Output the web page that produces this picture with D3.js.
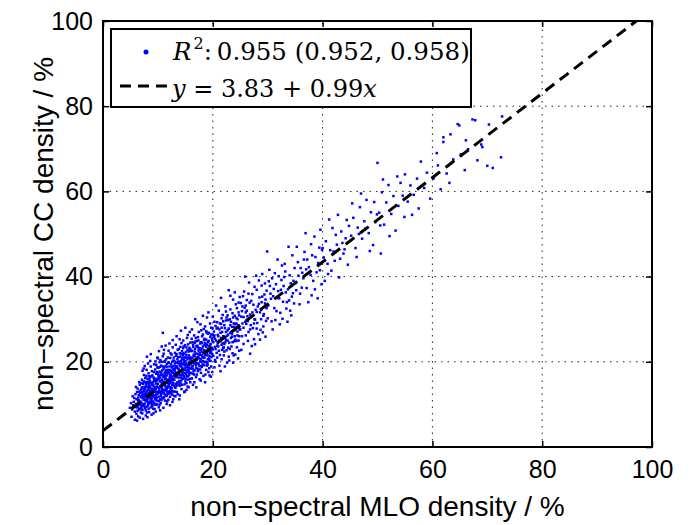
<!DOCTYPE html>
<html>
<head>
<meta charset="utf-8">
<script src="https://cdn.jsdelivr.net/npm/d3@7"></script>
<style>
  body { margin: 0; background: #fff; }
  svg { display: block; }
</style>
</head>
<body>
<svg id="chart"></svg>
<script>
// axis ticks
const xTicks = [0, 20, 40, 60, 80, 100];
const yTicks = [0, 20, 40, 60, 80, 100];

// linear fit shown in legend
const fitIntercept = 3.83;
const fitSlope = 0.99;
const r2Value = '0.955';
const r2Interval = '(0.952, 0.958)';

// [MLO density, CC density]
const scatterPoints = [
  [5.2,7.1],[5.5,9.8],[5.8,6.4],[6.1,11.2],[6.3,8.5],[6.6,13.0],[6.8,9.9],[5.9,12.4],[6.4,7.2],[6.9,11.8],[5.6,10.6],[6.2,9.3],[6.7,14.6],[5.3,8.8],[6.0,10.1],[6.5,12.2],[6.9,8.1],[5.7,11.5],[6.3,13.7],[6.8,10.7],[4.9,9.2],[6.1,7.8],[6.6,9.0],[5.4,11.9],[6.2,12.9],[6.7,6.9],[6.9,13.4],[5.8,8.3],[6.4,10.9],[6.0,14.1],[6.5,11.0],[6.8,12.7],[5.1,10.3],[6.3,9.6],[6.6,15.2],[5.9,9.4],[6.2,6.2],[6.9,9.2],[6.4,11.6],[6.7,8.8],
  [7.0,10.4],[7.1,12.9],[7.2,8.7],[7.3,14.8],[7.4,11.1],[7.5,9.6],[7.6,13.5],[7.7,16.2],[7.8,10.9],[7.9,12.3],[8.0,8.1],[8.1,14.1],[8.2,11.7],[8.3,17.3],[8.4,10.2],[8.5,12.8],[8.6,15.4],[8.7,9.3],[8.8,13.2],[8.9,11.4],
  [9.0,16.8],[9.1,10.7],[9.2,14.4],[9.3,12.1],[9.4,8.9],[9.5,18.2],[9.6,13.6],[9.7,11.0],[9.8,15.7],[9.9,12.6],[7.05,13.9],[7.25,11.6],[7.45,16.9],[7.65,9.1],[7.85,14.3],[8.05,12.0],[8.25,10.1],[8.45,15.9],[8.65,13.0],[8.85,7.6],
  [9.05,12.9],[9.25,17.6],[9.45,11.5],[9.65,14.9],[9.85,10.0],[7.15,7.9],[7.35,12.5],[7.55,15.3],[7.75,11.9],[7.95,18.1],[8.15,9.7],[8.35,13.8],[8.55,16.4],[8.75,11.2],[8.95,14.7],[9.15,9.0],[9.35,13.3],[9.55,20.1],[9.75,12.4],[9.95,16.1],
  [7.1,15.8],[7.3,10.0],[7.5,13.1],[7.7,12.0],[7.9,9.4],[8.1,16.0],[8.3,12.6],[8.5,10.6],[8.7,18.9],[8.9,13.5],[9.1,15.2],[9.3,10.4],[9.5,13.9],[9.7,17.2],[9.9,14.0],[7.2,17.9],[7.4,13.6],[7.6,11.3],[7.8,15.0],[8.0,13.1],
  [8.2,19.6],[8.4,14.6],[8.6,11.8],[8.8,16.6],[9.0,13.7],[9.2,11.9],[9.4,15.5],[9.6,9.9],[9.8,13.0],[8.0,21.2],[7.3,6.6],[7.8,7.4],[8.4,8.2],[9.0,9.6],[9.6,8.3],[7.6,19.0],[8.7,21.8],[9.3,19.4],[9.9,21.0],[7.0,15.0],
  [7.2,12.2],[7.4,9.8],[7.6,14.1],[7.8,12.7],[8.0,11.0],[8.2,15.3],[8.4,12.3],[8.6,14.0],[8.8,10.3],[9.0,12.4],[9.2,16.3],[9.4,14.0],[9.6,12.2],[9.8,11.6],[7.1,11.5],[7.9,16.7],[8.3,11.4],[8.9,17.8],[9.5,11.2],[9.9,18.7],
  [7.4,18.4],[8.1,7.0],[8.6,20.2],[9.2,7.9],[9.7,19.3],
  [10.0,12.6],[10.1,15.9],[10.2,10.8],[10.3,17.7],[10.4,14.2],[10.5,12.0],[10.6,19.1],[10.7,15.0],[10.8,11.6],[10.9,16.8],[11.0,13.4],[11.1,18.5],[11.2,14.8],[11.3,10.9],[11.4,16.2],[11.5,20.6],[11.6,13.7],[11.7,17.4],[11.8,12.5],[11.9,15.6],
  [12.0,19.8],[12.1,14.1],[12.2,11.8],[12.3,17.0],[12.4,15.3],[12.5,21.7],[12.6,13.2],[12.7,18.3],[12.8,16.0],[12.9,14.4],[10.05,17.2],[10.25,13.5],[10.45,20.4],[10.65,11.0],[10.85,14.6],[11.05,21.9],[11.25,16.6],[11.45,12.2],[11.65,19.5],[11.85,15.0],
  [12.05,13.0],[12.25,20.9],[12.45,16.7],[12.65,10.6],[12.85,19.0],[10.15,9.3],[10.35,15.4],[10.55,16.9],[10.75,13.1],[10.95,18.9],[11.15,11.7],[11.35,15.9],[11.55,17.8],[11.75,14.2],[11.95,22.6],[12.15,16.3],[12.35,13.7],[12.55,18.8],[12.75,15.1],[12.95,12.0],
  [10.1,14.0],[10.3,19.9],[10.5,15.6],[10.7,12.7],[10.9,21.3],[11.1,15.3],[11.3,13.3],[11.5,18.0],[11.7,10.7],[11.9,17.3],[12.1,15.8],[12.3,14.0],[12.5,17.5],[12.7,23.4],[12.9,16.6],[10.2,22.5],[10.4,11.3],[10.6,14.4],[10.8,18.0],[11.0,16.4],
  [11.2,12.4],[11.4,19.0],[11.6,15.2],[11.8,21.0],[12.0,14.7],[12.2,18.1],[12.4,12.6],[12.6,16.1],[12.8,20.3],[10.9,26.8],[10.3,9.9],[11.0,9.2],[11.6,10.1],[12.2,9.8],[12.8,11.2],[10.7,23.6],[11.4,23.8],[12.1,24.3],[12.7,25.1],[10.0,20.8],
  [10.4,16.3],[10.8,15.8],[11.2,17.3],[11.6,16.8],[12.0,17.6],[12.4,19.4],[12.8,14.9],[10.2,13.0],[10.6,17.5],[11.0,14.5],[11.4,14.0],[11.8,18.1],[12.2,15.0],[12.6,14.6],[10.1,18.6],[10.5,10.3],[11.3,20.2],[11.7,13.0],[12.3,22.0],[12.9,18.0],
  [10.4,8.6],[11.9,11.1],[12.6,12.3],[11.1,22.8],[10.8,20.0],
  [13.0,15.8],[13.1,19.6],[13.2,13.9],[13.3,21.4],[13.4,17.2],[13.5,15.0],[13.6,22.8],[13.7,18.4],[13.8,14.6],[13.9,20.0],[14.0,16.9],[14.1,23.5],[14.2,18.9],[14.3,13.6],[14.4,20.7],[14.5,17.5],[14.6,25.0],[14.7,16.1],[14.8,21.9],[14.9,19.2],
  [15.0,15.4],[15.1,22.3],[15.2,18.0],[15.3,20.9],[15.4,14.2],[15.5,24.1],[15.6,19.7],[15.7,17.0],[15.8,22.6],[15.9,18.5],[13.05,18.0],[13.25,24.0],[13.45,12.9],[13.65,19.9],[13.85,17.1],[14.05,21.2],[14.25,15.6],[14.45,18.6],[14.65,22.0],[14.85,14.7],
  [15.05,20.1],[15.25,16.6],[15.45,26.3],[15.65,21.5],[15.85,16.0],[13.15,16.7],[13.35,18.6],[13.55,20.6],[13.75,16.3],[13.95,25.3],[14.15,19.4],[14.35,17.0],[14.55,21.6],[14.75,19.8],[14.95,23.9],[15.15,17.2],[15.35,19.0],[15.55,15.8],[15.75,23.3],[15.95,20.4],
  [13.1,22.1],[13.3,14.8],[13.5,18.9],[13.7,21.1],[13.9,15.5],[14.1,17.8],[14.3,24.4],[14.5,16.0],[14.7,20.4],[14.9,17.4],[15.1,19.5],[15.3,25.6],[15.5,18.2],[15.7,21.0],[15.9,15.2],[13.2,11.9],[13.6,12.4],[14.0,12.1],[14.4,14.6],[14.8,12.9],
  [15.2,13.4],[15.6,14.0],[13.4,26.0],[14.2,27.3],[15.0,28.0],[15.8,27.0],[13.8,23.0],[14.6,23.2],[15.4,22.8],[13.0,20.2],[13.4,19.8],[13.8,18.2],[14.2,16.3],[14.6,18.3],[15.0,21.1],[15.4,17.6],[15.8,19.8],[13.2,17.5],[14.0,19.1],[14.8,18.1],
  [15.6,17.9],[13.6,17.4],[14.4,22.5],[15.2,23.4],[15.9,24.5],[13.9,11.2],[14.9,13.0],[14.3,19.6],[13.1,14.1],[15.7,19.2],
  [16.0,18.4],[16.1,22.5],[16.2,16.1],[16.3,24.6],[16.4,20.0],[16.5,17.8],[16.6,26.2],[16.7,21.3],[16.8,30.0],[16.9,19.2],[17.0,23.6],[17.1,17.0],[17.2,21.9],[17.3,25.8],[17.4,19.5],[17.5,22.9],[17.6,15.9],[17.7,24.3],[17.8,20.6],[17.9,27.4],
  [18.0,18.8],[18.1,23.1],[18.2,21.0],[18.3,16.7],[18.4,25.1],[18.5,19.9],[18.6,28.3],[18.7,22.2],[18.8,18.1],[18.9,24.0],[19.0,21.5],[19.1,26.6],[19.2,17.6],[19.3,23.7],[19.4,20.3],[19.5,29.0],[19.6,22.6],[19.7,18.9],[19.8,25.5],[19.9,21.8],
  [16.05,21.0],[16.25,19.0],[16.45,23.5],[16.65,15.2],[16.85,24.8],[17.05,20.5],[17.25,18.3],[17.45,27.0],[17.65,22.0],[17.85,17.4],[18.05,26.0],[18.25,20.2],[18.45,22.7],[18.65,17.0],[18.85,26.9],[19.05,19.3],[19.25,24.9],[19.45,22.1],[19.65,16.5],[19.85,23.3],
  [16.15,25.4],[16.35,17.2],[16.55,21.7],[16.75,23.0],[16.95,16.4],[17.15,24.9],[17.35,21.2],[17.55,19.0],[17.75,28.8],[17.95,22.4],[18.15,19.4],[18.35,27.7],[18.55,24.4],[18.75,20.0],[18.95,30.4],[19.15,23.0],[19.35,18.5],[19.55,25.9],[19.75,21.1],[19.95,27.9],
  [16.4,14.6],[17.0,14.0],[17.8,15.6],[18.6,15.2],[19.4,16.8],[16.2,27.6],[17.2,29.3],[18.2,30.8],[19.2,31.6],[19.9,17.6],[16.6,19.6],[17.4,22.6],[18.0,21.6],[18.8,23.5],[19.6,24.2],[16.9,21.9],[17.7,20.1],[18.5,23.9],[19.3,20.8],[16.3,20.8],
  [17.9,24.6],[18.9,19.1],[19.7,26.4],[17.3,23.4],[16.7,18.0],
  [20.0,22.9],[20.2,27.1],[20.4,20.4],[20.6,25.0],[20.8,29.3],[21.0,23.6],[21.2,19.1],[21.4,26.8],[21.6,24.0],[21.8,31.0],[22.0,21.5],[22.2,27.9],[22.4,25.2],[22.6,19.8],[22.8,29.8],[23.0,24.5],[23.2,32.3],[23.4,27.0],[23.6,22.0],[23.8,29.0],
  [24.0,26.0],[24.2,33.5],[24.4,23.4],[24.6,28.6],[24.8,30.9],[20.1,24.6],[20.3,18.7],[20.5,28.4],[20.7,22.1],[20.9,26.3],[21.1,32.0],[21.3,21.6],[21.5,28.9],[21.7,22.8],[21.9,26.0],[22.1,24.2],[22.3,33.0],[22.5,22.7],[22.7,27.4],[22.9,21.2],
  [23.1,30.0],[23.3,25.6],[23.5,28.2],[23.7,34.6],[23.9,24.8],[24.1,21.7],[24.3,30.3],[24.5,27.1],[24.7,25.0],[24.9,35.2],[20.0,30.6],[20.4,23.5],[20.8,21.0],[21.2,27.6],[21.6,30.2],[22.0,25.6],[22.4,29.7],[22.8,23.3],[23.2,26.8],[23.6,31.4],
  [24.0,28.9],[24.4,32.6],[24.8,22.6],[20.6,33.2],[21.4,17.8],[22.2,18.9],[23.0,20.3],[23.8,21.5],[24.6,20.8],[21.0,26.0],[21.8,24.4],[22.6,26.1],[23.4,23.6],[24.2,27.7],[20.2,25.8],[21.6,20.6],[22.4,31.8],[23.2,35.5],[24.0,36.3],[24.8,28.0],
  [20.9,28.0],[21.3,24.9],[21.9,29.5],[22.7,30.9],[23.5,25.9],[24.3,24.9],[24.7,33.9],[20.5,20.0],[22.1,22.4],[23.9,27.4],[21.5,35.0],[22.9,36.8],[20.3,29.4],[23.7,19.8],[24.5,30.0],
  [25.0,27.6],[25.3,31.9],[25.6,24.2],[25.9,29.4],[26.2,34.5],[26.5,27.0],[26.8,31.1],[27.1,23.7],[27.4,33.4],[27.7,29.9],[28.0,36.9],[28.3,26.5],[28.6,31.6],[28.9,34.0],[29.2,28.3],[29.5,38.4],[29.8,32.6],[25.1,33.8],[25.4,29.0],[25.7,36.5],
  [26.0,26.2],[26.3,30.7],[26.6,38.6],[26.9,28.6],[27.2,35.9],[27.5,25.3],[27.8,32.2],[28.1,29.1],[28.4,39.1],[28.7,27.5],[29.0,35.3],[29.3,31.2],[29.6,25.9],[29.9,45.9],[25.2,22.8],[25.8,32.7],[26.4,24.9],[27.0,30.5],[27.6,37.6],[28.2,33.0],
  [28.8,30.0],[29.4,35.8],[29.7,29.6],[25.5,35.4],[26.1,28.9],[26.7,33.9],[27.3,27.9],[27.9,40.2],[28.5,35.1],[29.1,26.9],[25.9,40.0],[26.8,21.9],[27.7,24.1],[28.6,25.2],[29.5,33.7],[25.3,26.0],[26.0,31.6],[27.0,34.3],[28.0,31.7],[29.0,40.6],
  [29.8,36.7],[27.5,29.0],[26.5,36.0],[28.9,37.9],[25.6,30.5],
  [30.1,33.2],[30.4,37.8],[30.7,29.5],[31.0,35.4],[31.3,40.8],[31.6,31.9],[31.9,36.6],[32.2,28.8],[32.5,39.2],[32.8,34.1],[33.1,43.0],[33.4,32.5],[33.7,37.0],[34.0,40.3],[34.3,30.9],[34.6,36.1],[34.9,42.0],[30.3,41.6],[30.9,27.6],[31.5,38.2],
  [32.1,34.9],[32.7,30.1],[33.3,36.3],[33.9,34.4],[34.5,45.0],[30.6,34.8],[31.2,32.6],[31.8,44.0],[32.4,36.9],[33.0,39.9],[33.6,29.4],[34.2,38.4],[34.8,33.7],[30.0,30.2],[30.8,39.6],[31.7,35.0],[32.6,42.6],[33.5,34.0],[34.4,35.3],[31.1,37.1],
  [32.3,31.5],[33.8,47.0],[34.7,39.0],[30.5,36.0],[32.9,37.8],[31.4,29.8],[34.1,32.0],[33.2,41.2],[30.2,38.9],[32.0,40.1],
  [35.1,38.5],[35.5,43.4],[35.9,36.0],[36.3,40.9],[36.7,45.8],[37.1,37.3],[37.5,42.2],[37.9,47.6],[38.3,39.0],[38.7,44.6],[39.1,34.9],[39.5,41.5],[39.9,46.3],[35.3,47.0],[35.8,33.5],[36.5,39.6],[37.2,44.0],[37.8,40.4],[38.5,49.4],[39.2,43.2],
  [39.8,38.2],[36.0,42.0],[36.9,50.2],[38.0,35.6],[38.9,41.0],[39.6,51.0],[35.6,40.2],[37.4,34.0],[36.2,37.4],[38.1,45.0],[39.4,46.8],[37.0,41.7],[35.2,36.8],[38.6,37.0],[36.6,44.0],
  [40.2,44.5],[40.6,48.3],[41.0,40.6],[41.4,46.2],[41.8,51.4],[42.2,43.7],[42.6,47.5],[43.0,39.8],[43.4,50.6],[43.8,45.4],[44.2,49.0],[44.6,42.8],[40.4,39.0],[41.2,53.4],[42.0,45.9],[42.8,54.5],[43.6,47.9],[44.4,53.3],[40.9,43.0],[41.6,41.4],
  [42.4,49.8],[43.2,44.2],[44.0,46.4],[44.8,51.9],[40.0,46.7],
  [45.2,49.6],[45.6,53.8],[46.0,46.7],[46.4,51.5],[46.8,56.3],[47.2,48.9],[47.6,53.0],[48.0,58.0],[48.4,50.2],[48.8,55.1],[49.2,47.4],[49.6,52.8],[45.4,57.2],[46.2,44.6],[47.0,59.5],[47.8,51.3],[48.6,46.0],[49.4,57.5],[49.9,54.6],[50.0,66.7],
  [50.6,45.4],[46.6,50.0],
  [50.3,55.0],[50.8,59.8],[51.2,52.2],[51.6,57.4],[52.0,61.5],[52.5,54.7],[52.9,58.9],[53.3,50.8],[53.8,56.6],[54.2,62.0],[54.6,59.0],[51.0,62.8],[52.2,49.5],[53.6,63.5],[54.9,54.0],[50.5,52.0],
  [55.0,64.0],[55.5,57.6],[56.0,61.4],[56.6,59.2],[57.2,63.0],[57.9,67.0],[58.5,60.8],[59.0,64.4],[59.6,58.3],[56.3,54.5],[57.5,56.0],
  [60.2,63.0],[61.0,66.1],[61.5,60.5],[62.0,72.7],[62.0,71.6],[62.6,64.2],[63.3,73.4],[63.8,67.5],[64.6,75.8],[64.9,75.5],[65.2,68.7],[65.9,65.0],[66.5,69.9],[67.3,76.9],[67.8,76.7],[68.2,67.3],[68.9,71.0],[69.1,70.4],[70.0,66.0],[70.3,75.7],
  [71.0,65.5],[72.5,68.0],[72.7,77.6],[60.8,69.0],[63.1,62.0],[66.1,72.0],
  // extra points filling the dense core
  [6.5,10.0],[6.9,12.0],[7.0,9.0],[7.2,14.0],[7.3,11.8],[7.5,12.4],[7.6,10.2],[7.7,13.8],[7.8,8.6],[7.9,14.8],[8.0,15.2],[8.1,10.6],[8.2,13.4],[8.3,9.0],[8.4,16.6],[8.5,14.2],[8.6,12.4],[8.7,10.8],[8.8,15.0],[8.9,9.8],
  [9.0,14.6],[9.1,12.2],[9.2,10.2],[9.3,15.8],[9.4,13.0],[9.5,16.0],[9.6,11.6],[9.7,15.4],[9.8,17.6],[9.9,10.8],[10.0,14.8],[10.1,11.8],[10.2,16.6],[10.3,12.8],[10.4,18.8],[10.5,14.0],[10.6,12.4],[10.7,17.0],[10.8,13.6],[10.9,15.2],
  [11.0,18.2],[11.1,12.8],[11.2,20.0],[11.3,14.6],[11.4,17.6],[11.5,13.4],[11.6,18.8],[11.7,15.8],[11.8,14.0],[11.9,19.8],[12.0,12.6],[12.1,18.9],[12.2,16.8],[12.3,15.6],[12.4,17.8],[12.5,13.8],[12.6,20.0],[12.7,15.8],[12.8,17.4],[12.9,21.0],
  [13.0,17.0],[13.1,13.0],[13.2,19.0],[13.3,16.4],[13.4,21.8],[13.5,16.8],[13.6,15.2],[13.7,20.0],[13.8,19.6],[13.9,17.8],[14.0,22.0],[14.1,15.0],[14.2,20.2],[14.3,18.0],[14.4,16.8],[14.5,21.0],[14.6,19.4],[14.7,23.6],[14.8,16.6],[14.9,21.0],
  [15.0,18.6],[15.1,16.0],[15.2,21.6],[15.3,18.8],[15.4,20.6],[15.5,16.6],[15.6,22.4],[15.7,18.6],[15.8,20.8],[15.9,23.0],[16.0,20.2],[16.1,17.4],[16.2,22.6],[16.3,19.0],[16.4,24.0],[16.5,21.4],[16.6,17.0],[16.7,22.4],[16.8,20.4],[16.9,25.6],
  [17.0,18.6],[17.1,21.0],[17.2,23.8],[17.3,19.6],[17.4,25.0],[17.5,20.8],[17.6,23.2],[17.7,18.2],[17.8,22.8],[17.9,20.0],[18.0,24.4],[18.1,21.2],[18.2,26.4],[18.3,22.2],[18.4,19.2],[18.5,25.4],[18.6,21.6],[18.7,24.2],[18.8,27.2],[18.9,22.0],
  [19.0,19.8],[19.1,24.6],[19.2,22.6],[19.3,26.8],[19.4,21.4],[19.5,24.0],[19.6,20.2],[19.7,28.0],[19.8,23.0],[19.9,25.0],[20.1,21.4],[20.3,26.2],[20.5,23.0],[20.7,27.8],[20.9,24.4],[21.1,22.6],[21.3,29.0],[21.5,25.6],[21.7,27.0],[21.9,23.2],
  [22.1,28.6],[22.3,24.6],[22.5,30.4],[22.7,25.0],[22.9,27.8],[23.1,23.0],[23.3,29.4],[23.5,26.6],[23.7,30.4],[23.9,28.2],[24.1,25.2],[24.3,29.0],[24.5,26.2],[24.7,31.6],[24.9,27.6],
  [7.1,9.6],[7.4,15.4],[7.7,11.0],[8.0,12.2],[8.3,15.0],[8.6,13.2],[8.9,12.0],[9.2,13.4],[9.5,10.0],[9.8,14.2],[10.1,16.8],[10.4,13.0],[10.7,14.2],[11.0,11.4],[11.3,16.8],[11.6,12.0],[11.9,14.2],[12.2,13.2],[12.5,16.2],[12.8,13.0],
  [13.1,18.4],[13.4,14.4],[13.7,17.4],[14.0,14.4],[14.3,21.8],[14.6,17.0],[14.9,20.2],[15.2,15.0],[15.5,19.2],[15.8,17.4],[16.1,20.0],[16.4,18.4],[16.7,24.4],[17.0,19.8],[17.3,17.8],[17.6,21.6],[17.9,19.0],[18.2,23.6],[18.5,21.0],[18.8,25.2],
  [19.1,20.6],[19.4,23.0],[19.7,22.2],[20.0,26.4],[20.4,25.4],[20.8,23.8],[21.2,25.0],[21.6,28.0],[22.0,23.4],[22.4,27.0],[22.8,26.4],[23.2,28.6],[23.6,24.6],[24.0,30.8],[24.4,28.2],[24.8,26.0],[25.2,30.6],[25.6,28.0],[26.0,33.2],[26.4,29.6],
  [26.8,27.6],[27.2,31.6],[27.6,30.0],[28.0,27.8],[28.4,33.6],[28.8,32.2],[29.2,30.8],[29.6,34.6],[25.4,33.0],[26.2,32.0]
];

const width = 692;
const height = 525;
const margin = { top: 21, right: 40, bottom: 78, left: 103 };

const svg = d3.select('#chart')
  .attr('width', width)
  .attr('height', height)
  .attr('viewBox', [0, 0, width, height]);

const x = d3.scaleLinear()
  .domain([0, 100])
  .range([margin.left, width - margin.right]);

const y = d3.scaleLinear()
  .domain([0, 100])
  .range([height - margin.bottom, margin.top]);

const tickFont = "'Liberation Sans', Arial, sans-serif";

// dotted grid
const grid = svg.append('g')
  .attr('stroke', '#222')
  .attr('stroke-width', 1)
  .attr('stroke-dasharray', '1.5,5');

grid.selectAll('.gx')
  .data(xTicks.slice(1, -1))
  .join('line')
    .attr('x1', d => x(d)).attr('x2', d => x(d))
    .attr('y1', y(0)).attr('y2', y(100));

grid.selectAll('.gy')
  .data(yTicks.slice(1, -1))
  .join('line')
    .attr('x1', x(0)).attr('x2', x(100))
    .attr('y1', d => y(d)).attr('y2', d => y(d));

// scatter
const dot = 2.5;
svg.append('g')
  .attr('fill', '#0000ff')
  .selectAll('rect')
  .data(scatterPoints)
  .join('rect')
    .attr('x', d => x(d[0]) - dot / 2)
    .attr('y', d => y(d[1]) - dot / 2)
    .attr('width', dot)
    .attr('height', dot);

// fit line, clipped at the top of the box
const xEnd = (100 - fitIntercept) / fitSlope;
svg.append('line')
  .attr('x1', x(0)).attr('y1', y(fitIntercept))
  .attr('x2', x(xEnd)).attr('y2', y(fitIntercept + fitSlope * xEnd))
  .attr('stroke', '#000')
  .attr('stroke-width', 3)
  .attr('stroke-dasharray', '11,7');

// axes: inward ticks on all four sides
const tickLen = -6;
const xAxis = g => g
  .attr('transform', `translate(0,${y(0)})`)
  .call(d3.axisBottom(x).tickValues(xTicks).tickSizeInner(tickLen).tickSizeOuter(0).tickPadding(13))
  .call(g => g.select('.domain').remove());

const yAxis = g => g
  .attr('transform', `translate(${x(0)},0)`)
  .call(d3.axisLeft(y).tickValues(yTicks).tickSizeInner(tickLen).tickSizeOuter(0).tickPadding(10))
  .call(g => g.select('.domain').remove());

const topAxis = g => g
  .attr('transform', `translate(0,${y(100)})`)
  .call(d3.axisTop(x).tickValues(xTicks).tickSizeInner(tickLen).tickSizeOuter(0).tickFormat(''))
  .call(g => g.select('.domain').remove());

const rightAxis = g => g
  .attr('transform', `translate(${x(100)},0)`)
  .call(d3.axisRight(y).tickValues(yTicks).tickSizeInner(tickLen).tickSizeOuter(0).tickFormat(''))
  .call(g => g.select('.domain').remove());

[xAxis, yAxis, topAxis, rightAxis].forEach(a => {
  svg.append('g').call(a)
    .call(g => g.selectAll('line').attr('stroke', '#000').attr('stroke-width', 1.5))
    .call(g => g.selectAll('text')
      .attr('font-family', tickFont)
      .attr('font-size', 25)
      .attr('fill', '#000'));
});

// box
svg.append('rect')
  .attr('x', x(0)).attr('y', y(100))
  .attr('width', x(100) - x(0))
  .attr('height', y(0) - y(100))
  .attr('fill', 'none')
  .attr('stroke', '#000')
  .attr('stroke-width', 2);

// axis titles
svg.append('text')
  .attr('x', (x(0) + x(100)) / 2)
  .attr('y', 516)
  .attr('text-anchor', 'middle')
  .attr('font-family', tickFont)
  .attr('font-size', 28)
  .text('non\u2212spectral MLO density / %');

svg.append('text')
  .attr('transform', `translate(53,${(y(0) + y(100)) / 2}) rotate(-90)`)
  .attr('text-anchor', 'middle')
  .attr('font-family', tickFont)
  .attr('font-size', 28)
  .text('non\u2212spectral CC density / %');

// legend
const legend = svg.append('g');
legend.append('rect')
  .attr('x', 111).attr('y', 29)
  .attr('width', 360).attr('height', 78)
  .attr('fill', '#fff')
  .attr('stroke', '#000')
  .attr('stroke-width', 2);

legend.append('circle')
  .attr('cx', 146).attr('cy', 52).attr('r', 2.5)
  .attr('fill', '#0000ff');

legend.append('line')
  .attr('x1', 120).attr('x2', 170)
  .attr('y1', 86).attr('y2', 86)
  .attr('stroke', '#000')
  .attr('stroke-width', 3)
  .attr('stroke-dasharray', '11,7');

const serif = "'DejaVu Serif', serif";
const line1 = legend.append('text')
  .attr('font-family', serif)
  .attr('font-size', 24.5)
  .attr('x', 173)
  .attr('y', 60);
line1.append('tspan').attr('font-style', 'italic').text('R');
line1.append('tspan').attr('dx', 2).attr('dy', -11).attr('font-size', 16).text('2');
line1.append('tspan').attr('dy', 11).text(`:\u2009${r2Value} ${r2Interval}`);

const line2 = legend.append('text')
  .attr('font-family', serif)
  .attr('font-size', 24)
  .attr('x', 172)
  .attr('y', 97);
line2.append('tspan').attr('font-style', 'italic').text('y');
line2.append('tspan').text(` = ${fitIntercept.toFixed(2)} + ${fitSlope.toFixed(2)}`);
line2.append('tspan').attr('font-style', 'italic').text('x');
</script>
</body>
</html>
